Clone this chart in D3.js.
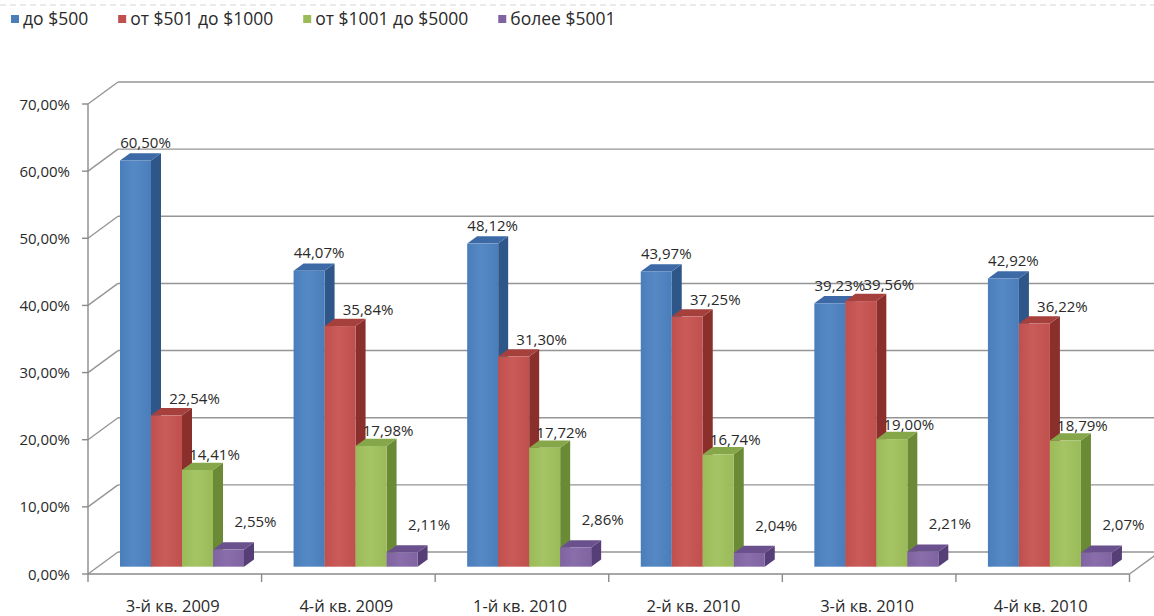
<!DOCTYPE html>
<html>
<head>
<meta charset="utf-8">
<script src="https://cdn.jsdelivr.net/npm/d3@7"></script>
<style>
  html, body { margin: 0; padding: 0; background: #fff; }
  svg { display: block; }
  text { font-family: "Open Sans", "Noto Sans", sans-serif; fill: #2a2a2a; }
</style>
</head>
<body>
<svg id="chart" width="1154" height="616"></svg>
<script>
// ---- data ----
const categories = ["3-й кв. 2009", "4-й кв. 2009", "1-й кв. 2010", "2-й кв. 2010", "3-й кв. 2010", "4-й кв. 2010"];
const seriesNames = ["до $500", "от $501 до $1000", "от $1001 до $5000", "более $5001"];
const upTo500      = [60.50, 44.07, 48.12, 43.97, 39.23, 42.92];
const from501      = [22.54, 35.84, 31.30, 37.25, 39.56, 36.22];
const from1001     = [14.41, 17.98, 17.72, 16.74, 19.00, 18.79];
const over5001     = [2.55, 2.11, 2.86, 2.04, 2.21, 2.07];
const yTicks       = [0, 10, 20, 30, 40, 50, 60, 70];

const seriesValues = [upTo500, from501, from1001, over5001];

// ---- styles ----
const colors = [
  { front: "#4a7ebb", light: "#5689c4", side: "#2f5688", top: "#3d6aa6" },
  { front: "#c0504d", light: "#c95b58", side: "#8a2f2c", top: "#a6403d" },
  { front: "#9bbb59", light: "#a5c465", side: "#6a8a36", top: "#86a64a" },
  { front: "#8064a2", light: "#8a6eac", side: "#563f77", top: "#6b508e" }
];
// label offsets per series (relative to bar front top centre)
const labelOff = [[10, -18], [28, -17], [17, -15], [27, -28]];

const svg = d3.select("#chart");
const W = 1154;

// ---- geometry ----
const x = d3.scaleBand().domain(categories).range([88, 1129.5]).padding(0);
const xs = d3.scaleBand().domain(seriesNames).range([22, 146]).padding(0);
const y = d3.scaleLinear().domain([0, 70]).range([574, 104]);
const depth = { dx: 30, dy: -22 };        // wall depth
const barShift = { dx: 10, dy: -7.3 };    // bar front plane
const barDepth = { dx: 10, dy: -7.3 };    // bar thickness

const fmt = v => d3.format(".2f")(v).replace(".", ",") + "%";

// top dashed border
svg.append("line")
  .attr("x1", 0).attr("x2", W).attr("y1", 5).attr("y2", 5)
  .attr("stroke", "#d6d6d6").attr("stroke-width", 1.2).attr("stroke-dasharray", "6,4");

// gradients
const defs = svg.append("defs");
colors.forEach((c, i) => {
  const g = defs.append("linearGradient").attr("id", "gf" + i)
    .attr("x1", "0%").attr("x2", "100%").attr("y1", "0%").attr("y2", "0%");
  g.append("stop").attr("offset", "0%").attr("stop-color", c.front);
  g.append("stop").attr("offset", "45%").attr("stop-color", c.light);
  g.append("stop").attr("offset", "100%").attr("stop-color", c.front);
});

// ---- walls & gridlines ----
const grid = svg.append("g");
const gridColor = "#959595";
yTicks.forEach(t => {
  const yy = y(t);
  grid.append("line")
    .attr("x1", x.range()[0]).attr("y1", yy)
    .attr("x2", x.range()[0] + depth.dx).attr("y2", yy + depth.dy)
    .attr("stroke", gridColor).attr("stroke-width", 1.4);
  grid.append("line")
    .attr("x1", x.range()[0] + depth.dx).attr("y1", yy + depth.dy)
    .attr("x2", W + 10).attr("y2", yy + depth.dy)
    .attr("stroke", gridColor).attr("stroke-width", 1.4);
});
// floor right edge
grid.append("line")
  .attr("x1", x.range()[1]).attr("y1", y(0))
  .attr("x2", x.range()[1] + depth.dx).attr("y2", y(0) + depth.dy)
  .attr("stroke", gridColor).attr("stroke-width", 1.4);

// ---- bars ----
const bars = svg.append("g");
categories.forEach((cat, i) => {
  seriesNames.forEach((s, j) => {
    const v = seriesValues[j][i];
    const c = colors[j];
    const x0 = x(cat) + xs(s) + barShift.dx;
    const w = xs.bandwidth();
    const yT = y(v) + barShift.dy;
    const yB = y(0) + barShift.dy;
    const ddx = barDepth.dx, ddy = barDepth.dy;
    bars.append("polygon")
      .attr("points", [[x0 + w, yT], [x0 + w + ddx, yT + ddy], [x0 + w + ddx, yB + ddy], [x0 + w, yB]].map(p => p.join(",")).join(" "))
      .attr("fill", c.side);
    bars.append("polygon")
      .attr("points", [[x0, yT], [x0 + ddx, yT + ddy], [x0 + w + ddx, yT + ddy], [x0 + w, yT]].map(p => p.join(",")).join(" "))
      .attr("fill", c.top);
    bars.append("rect")
      .attr("x", x0).attr("y", yT).attr("width", w).attr("height", yB - yT)
      .attr("fill", "url(#gf" + j + ")");
  });
});

// ---- axes ----
const axisColor = "#8a8a8a";
svg.append("line")
  .attr("x1", x.range()[0]).attr("x2", x.range()[0])
  .attr("y1", y(0)).attr("y2", y(70))
  .attr("stroke", axisColor).attr("stroke-width", 1.4);
yTicks.forEach(t => {
  svg.append("line")
    .attr("x1", x.range()[0] - 6).attr("x2", x.range()[0])
    .attr("y1", y(t)).attr("y2", y(t))
    .attr("stroke", axisColor).attr("stroke-width", 1.4);
  svg.append("text")
    .attr("x", 70).attr("y", y(t) + 5.5)
    .attr("text-anchor", "end")
    .attr("font-size", 15)
    .text(fmt(t));
});
svg.append("line")
  .attr("x1", x.range()[0]).attr("x2", x.range()[1])
  .attr("y1", y(0)).attr("y2", y(0))
  .attr("stroke", axisColor).attr("stroke-width", 1.4);
const bounds = categories.map(c => x(c)).concat([x.range()[1]]);
bounds.forEach(bx => {
  svg.append("line")
    .attr("x1", bx).attr("x2", bx)
    .attr("y1", y(0)).attr("y2", y(0) + 8)
    .attr("stroke", axisColor).attr("stroke-width", 1.4);
});
categories.forEach(cat => {
  svg.append("text")
    .attr("x", x(cat) + x.bandwidth() / 2 - 2)
    .attr("y", 612)
    .attr("text-anchor", "middle")
    .attr("font-size", 16.5)
    .text(cat);
});

// ---- data labels ----
categories.forEach((cat, i) => {
  seriesNames.forEach((s, j) => {
    const v = seriesValues[j][i];
    const cx = x(cat) + xs(s) + barShift.dx + xs.bandwidth() / 2 + labelOff[j][0];
    const cy = y(v) + barShift.dy + labelOff[j][1];
    svg.append("text")
      .attr("x", cx).attr("y", cy + 5.5)
      .attr("text-anchor", "middle")
      .attr("font-size", 15)
      .text(fmt(v));
  });
});

// ---- legend ----
const legend = svg.append("g");
let lx = 11;
seriesNames.forEach((s, j) => {
  legend.append("rect")
    .attr("x", lx).attr("y", 15).attr("width", 8).attr("height", 8)
    .attr("fill", colors[j].front);
  const t = legend.append("text")
    .attr("x", lx + 12).attr("y", 25)
    .attr("font-size", 17.5)
    .text(s);
  const tw = t.node().getComputedTextLength();
  lx = lx + 12 + tw + 30;
});
</script>
</body>
</html>
